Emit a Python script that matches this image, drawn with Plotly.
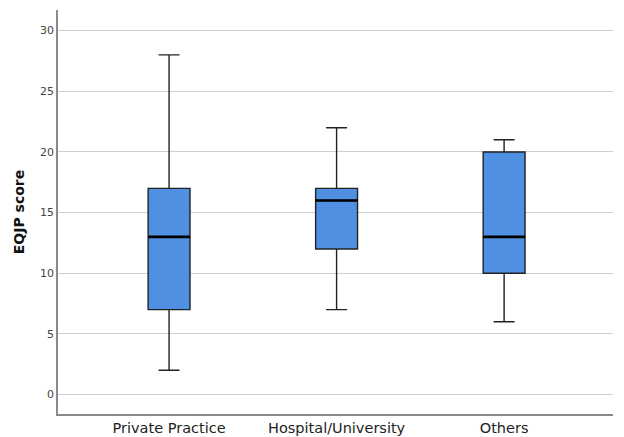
import plotly.graph_objects as go

categories = ["Private Practice", "Hospital/University", "Others"]
minimum = [2, 7, 6]
q1 = [7, 12, 10]
median = [13, 16, 13]
q3 = [17, 17, 20]
maximum = [28, 22, 21]
y_ticks = [0, 5, 10, 15, 20, 25, 30]

BOX_W = 0.25

fig = go.Figure()
fig.add_trace(go.Box(
    x=categories,
    q1=q1, median=median, q3=q3,
    lowerfence=minimum, upperfence=maximum,
    boxpoints=False,
    width=BOX_W,
    whiskerwidth=0.5,
    fillcolor="#4F90E3",
    line=dict(color="#222222", width=1.4),
    showlegend=False,
    hoverinfo="skip",
))

# thicker median lines drawn from the data
for i, m in enumerate(median):
    fig.add_shape(type="line", xref="x", yref="y",
                  x0=i - BOX_W / 2, x1=i + BOX_W / 2, y0=m, y1=m,
                  line=dict(color="#000000", width=2.6))

# page body adds an ~8px offset, so the figure is sized to fit the window
fig.update_layout(
    width=616, height=429,
    margin=dict(l=50, r=11, t=2, b=23),
    paper_bgcolor="white", plot_bgcolor="white",
    font=dict(family="DejaVu Sans", color="#222222"),
)
fig.update_xaxes(
    type="category",
    range=[-0.663, 2.65],
    automargin=False,
    showgrid=False,
    showline=True, linecolor="#8a8a8a", linewidth=1.5,
    ticks="", tickfont=dict(size=14.5, color="#222222"),
    zeroline=False,
)
fig.update_yaxes(
    range=[-1.6, 31.7],
    automargin=False,
    tickvals=y_ticks,
    showgrid=True, gridcolor="#cfcfcf", gridwidth=1,
    showline=True, linecolor="#8a8a8a", linewidth=1.5,
    ticks="", tickfont=dict(size=11, color="#444444"),
    zeroline=False,
    title=dict(text="<b>EQJP score</b>", font=dict(size=14, color="#111111"), standoff=12),
)

fig.write_html("out.html")
